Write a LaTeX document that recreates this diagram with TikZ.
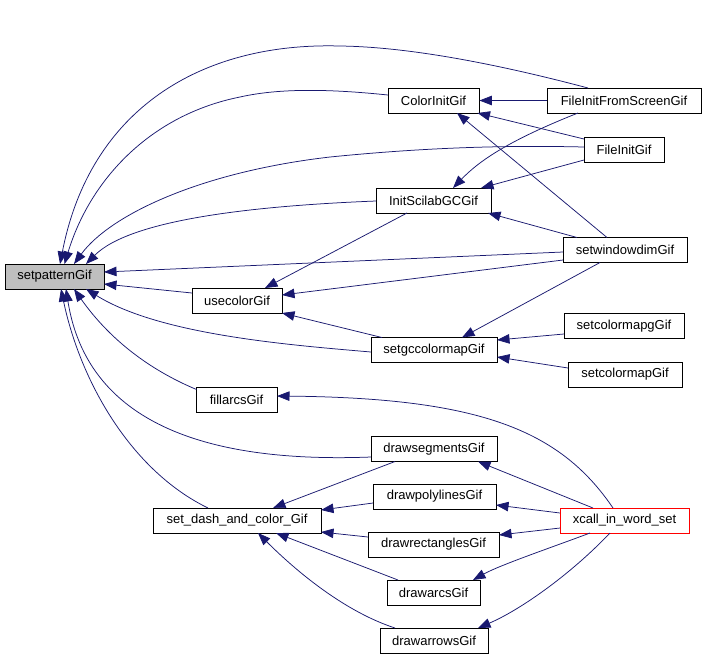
\documentclass[tikz,border=0pt]{standalone}
\usepackage{fontspec}
\setmainfont{Liberation Sans}
\usetikzlibrary{arrows.meta}
\definecolor{edgeblue}{RGB}{25,25,112}
\definecolor{boxgray}{RGB}{191,191,191}
\tikzset{
  fn/.style={draw=black, line width=0.8pt, fill=white, inner sep=0pt, minimum height=25pt, font=\fontsize{13}{15}\selectfont},
  e/.style={draw=edgeblue, line width=0.75pt, -{Triangle[length=12.5pt,width=9.5pt]}, fill=none}
}
\begin{document}
\begin{tikzpicture}[x=1pt,y=-1pt]
\path[use as bounding box, fill=white] (0,0) rectangle (706,657);
% nodes
\node[fn, fill=boxgray, minimum width=99pt] (sp) at (54.5,276.5) {setpatternGif};
\node[fn, minimum width=91pt] (ci) at (433.5,100.5) {ColorInitGif};
\node[fn, minimum width=154pt] (fifs) at (624,100.5) {FileInitFromScreenGif};
\node[fn, minimum width=80pt] (fi) at (624,150) {FileInitGif};
\node[fn, minimum width=115pt] (isg) at (433.5,200.5) {InitScilabGCGif};
\node[fn, minimum width=124pt] (swd) at (625,250) {setwindowdimGif};
\node[fn, minimum width=90pt] (uc) at (237,300.5) {usecolorGif};
\node[fn, minimum width=120pt] (scg) at (624,326) {setcolormapgGif};
\node[fn, minimum width=126pt] (sgc) at (434,350) {setgccolormapGif};
\node[fn, minimum width=114pt] (scm) at (625,374.5) {setcolormapGif};
\node[fn, minimum width=81pt] (fa) at (236.5,399.5) {fillarcsGif};
\node[fn, minimum width=126pt] (ds) at (434,449) {drawsegmentsGif};
\node[fn, minimum width=168pt] (sdc) at (237,520.5) {set\_dash\_and\_color\_Gif};
\node[fn, minimum width=123pt] (dp) at (434.5,496.5) {drawpolylinesGif};
\node[fn, draw=red, minimum width=129pt] (xc) at (624.5,520.5) {xcall\_in\_word\_set};
\node[fn, minimum width=131pt] (dr) at (433.5,544.5) {drawrectanglesGif};
\node[fn, minimum width=93pt] (da) at (433.5,592.5) {drawarcsGif};
\node[fn, minimum width=108pt] (dw) at (434,640.5) {drawarrowsGif};
% edges into setpatternGif
\draw[e] ([shift={(-36,-12.5)}]fifs.center) .. controls (520,70) and (420,47) .. (340,46) .. controls (200,42) and (90,110) .. ([shift={(5.5,-12.5)}]sp.center);
\draw[e] ([shift={(-45.5,-5.5)}]ci.center) .. controls (330,89) and (280,88) .. (240,97) .. controls (150,115) and (90,180) .. ([shift={(10,-12.5)}]sp.center);
\draw[e] ([shift={(-40,-3)}]fi.center) .. controls (500,145) and (420,148) .. (330,157) .. controls (200,172) and (110,215) .. ([shift={(19.5,-12.5)}]sp.center);
\draw[e] ([shift={(-57.5,0.5)}]isg.center) .. controls (250,206) and (130,220) .. ([shift={(31.5,-12.5)}]sp.center);
\draw[e] ([shift={(-62,2)}]swd.center) -- ([shift={(49.5,-4.5)}]sp.center);
\draw[e] ([shift={(-45,-7.5)}]uc.center) -- ([shift={(49.5,7.5)}]sp.center);
\draw[e] ([shift={(-63,2)}]sgc.center) .. controls (290,345) and (160,335) .. ([shift={(31.5,12.5)}]sp.center);
\draw[e] ([shift={(-40,-10)}]fa.center) .. controls (150,370) and (110,340) .. ([shift={(19.5,12.5)}]sp.center);
\draw[e] ([shift={(-63,8)}]ds.center) .. controls (240,462) and (90,440) .. ([shift={(11.5,12.5)}]sp.center);
\draw[e] ([shift={(-29,-12.5)}]sdc.center) .. controls (130,470) and (80,380) .. ([shift={(6.5,12.5)}]sp.center);
% upper cluster
\draw[e] (fifs.west) -- (ci.east);
\draw[e] ([shift={(-40,-11)}]fi.center) -- ([shift={(44,12.5)}]ci.center);
\draw[e] ([shift={(-46,12.5)}]fifs.center) .. controls (510,140) and (480,160) .. ([shift={(19.5,-12.5)}]isg.center);
\draw[e] ([shift={(-40,10)}]fi.center) -- ([shift={(47.5,-12.5)}]isg.center);
\draw[e] ([shift={(-18,-12.5)}]swd.center) -- ([shift={(23.5,12.5)}]ci.center);
\draw[e] ([shift={(-48,-12.5)}]swd.center) -- ([shift={(54.5,12.5)}]isg.center);
\draw[e] ([shift={(-62,10)}]swd.center) -- ([shift={(45,-5.5)}]uc.center);
\draw[e] ([shift={(-26.5,12.5)}]isg.center) -- ([shift={(28,-12.5)}]uc.center);
\draw[e] ([shift={(-52,-12.5)}]sgc.center) -- ([shift={(45,12.5)}]uc.center);
\draw[e] ([shift={(-25,12.5)}]swd.center) -- ([shift={(28,-12.5)}]sgc.center);
\draw[e] ([shift={(-60,8)}]scg.center) -- ([shift={(63,-10)}]sgc.center);
\draw[e] ([shift={(-57,-6.5)}]scm.center) -- ([shift={(63,7)}]sgc.center);
% lower cluster
\draw[e] ([shift={(-11.5,-12.5)}]xc.center) .. controls (560,430) and (480,398) .. ([shift={(40.5,-3.5)}]fa.center);
\draw[e] ([shift={(-39,12.5)}]ds.center) -- ([shift={(36,-12.5)}]sdc.center);
\draw[e] ([shift={(-61.5,6.5)}]dp.center) -- ([shift={(84,-10.5)}]sdc.center);
\draw[e] ([shift={(-65.5,-7.5)}]dr.center) -- ([shift={(84,11.5)}]sdc.center);
\draw[e] ([shift={(-35.5,-12.5)}]da.center) -- ([shift={(39,12.5)}]sdc.center);
\draw[e] ([shift={(-39,-12.5)}]dw.center) .. controls (340,610) and (290,565) .. ([shift={(21,12.5)}]sdc.center);
\draw[e] ([shift={(-31.5,-12.5)}]xc.center) -- ([shift={(44,12.5)}]ds.center);
\draw[e] ([shift={(-64.5,-7.5)}]xc.center) -- ([shift={(61.5,8.5)}]dp.center);
\draw[e] ([shift={(-64.5,7.5)}]xc.center) -- ([shift={(65.5,-9.5)}]dr.center);
\draw[e] ([shift={(-34.5,12.5)}]xc.center) .. controls (550,548) and (500,565) .. ([shift={(39.5,-12.5)}]da.center);
\draw[e] ([shift={(-14.5,12.5)}]xc.center) .. controls (570,575) and (520,610) .. ([shift={(44,-12.5)}]dw.center);
\end{tikzpicture}
\end{document}
